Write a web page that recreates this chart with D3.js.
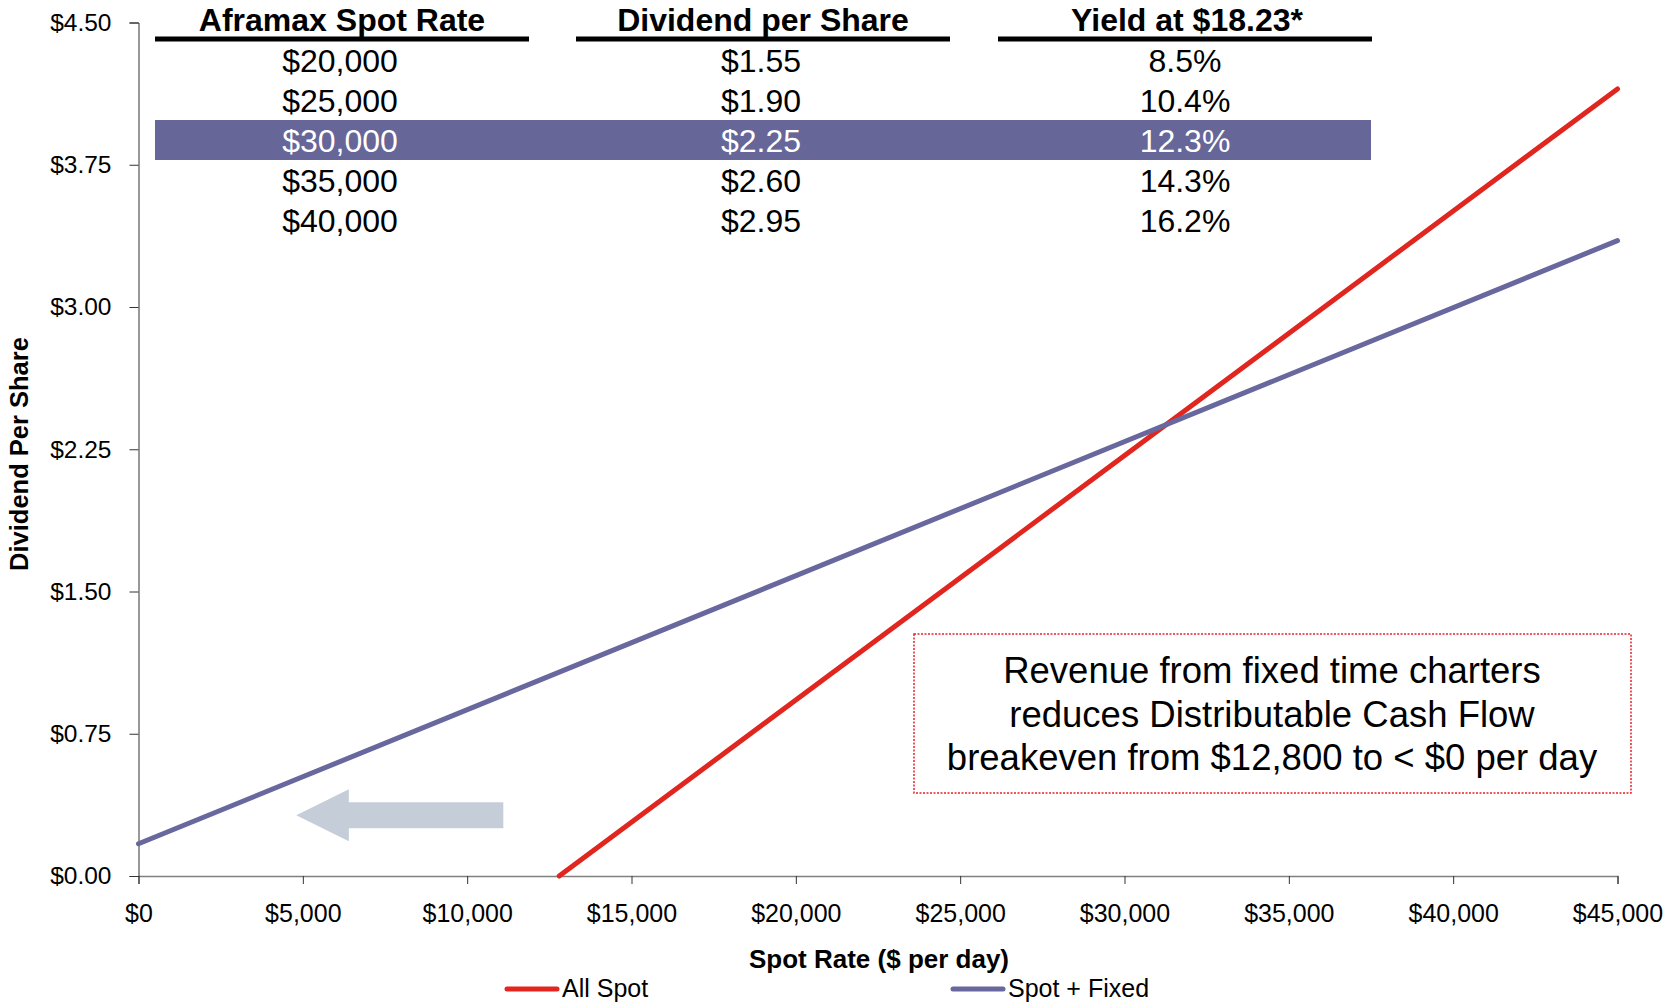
<!DOCTYPE html>
<html lang="en">
<head>
  <meta charset="UTF-8">
  <title>Dividend per Share vs Spot Rate</title>
  <script src="https://d3js.org/d3.v7.min.js"></script>
  <style>
    body { margin: 0; background: #fff; }
    text { font-family: "Liberation Sans", Arial, sans-serif; }
  </style>
</head>
<body>
<script>
  // Series (spot rate $/day -> dividend per share)
  const allSpotX = [12800, 45000];
  const allSpotY = [0, 4.15];
  const spotFixedX = [0, 45000];
  const spotFixedY = [0.17, 3.35];

  // Axis ticks
  const xTicks = [0, 5000, 10000, 15000, 20000, 25000, 30000, 35000, 40000, 45000];
  const yTicks = [0, 0.75, 1.5, 2.25, 3.0, 3.75, 4.5];

  // Table
  const tableHeaders = ["Aframax Spot Rate", "Dividend per Share", "Yield at $18.23*"];
  const spotRates = ["$20,000", "$25,000", "$30,000", "$35,000", "$40,000"];
  const dividends = ["$1.55", "$1.90", "$2.25", "$2.60", "$2.95"];
  const yields = ["8.5%", "10.4%", "12.3%", "14.3%", "16.2%"];
  const highlightRow = 2;

  const noteLines = [
    "Revenue from fixed time charters",
    "reduces Distributable Cash Flow",
    "breakeven from $12,800 to < $0 per day"
  ];

  const legendNames = ["All Spot", "Spot + Fixed"];

  const W = 1668, H = 1004;
  const red = "#e0261f", purple = "#68689e";

  const svg = d3.select("body").append("svg")
    .attr("width", W).attr("height", H);

  const x = d3.scaleLinear().domain([0, 45000]).range([138.5, 1617.5]);
  const y = d3.scaleLinear().domain([0, 4.5]).range([876, 22.5]);

  // x axis
  const xAxis = svg.append("g")
    .attr("transform", `translate(0,${y(0)})`)
    .call(d3.axisBottom(x).tickValues(xTicks).tickSize(8).tickPadding(20)
      .tickFormat(d => "$" + d3.format(",")(d)));
  xAxis.select(".domain").attr("stroke", "#808080").attr("stroke-width", 1.5);
  xAxis.selectAll(".tick line").attr("stroke", "#333");
  xAxis.selectAll("text").attr("font-size", 25).attr("fill", "#000");

  // y axis
  const yAxis = svg.append("g")
    .attr("transform", `translate(${x(0)},0)`)
    .call(d3.axisLeft(y).tickValues(yTicks).tickSize(9).tickPadding(18)
      .tickFormat(d => "$" + d3.format(".2f")(d)));
  yAxis.select(".domain").attr("stroke", "#333").attr("stroke-width", 1);
  yAxis.selectAll(".tick line").attr("stroke", "#333");
  yAxis.selectAll("text").attr("font-size", 24.5).attr("fill", "#000");

  // axis titles
  svg.append("text")
    .attr("x", 879).attr("y", 968)
    .attr("text-anchor", "middle")
    .attr("font-size", 26).attr("font-weight", "bold")
    .text("Spot Rate ($ per day)");

  svg.append("text")
    .attr("transform", "translate(28,454) rotate(-90)")
    .attr("text-anchor", "middle")
    .attr("font-size", 25.5).attr("font-weight", "bold")
    .text("Dividend Per Share");

  // arrow annotation (data units)
  const arrowTail = 11100, arrowTip = 4800, arrowHeadBase = 6400, arrowY = 0.32;
  const ay = y(arrowY);
  const arrowPts = [
    [x(arrowTip), ay],
    [x(arrowHeadBase), ay - 26],
    [x(arrowHeadBase), ay - 13],
    [x(arrowTail), ay - 13],
    [x(arrowTail), ay + 13],
    [x(arrowHeadBase), ay + 13],
    [x(arrowHeadBase), ay + 26]
  ];
  svg.append("polygon")
    .attr("points", arrowPts.map(p => p.join(",")).join(" "))
    .attr("fill", "#c5ced8");

  // lines
  const line = d3.line().x(d => x(d[0])).y(d => y(d[1]));
  const series = [
    { name: legendNames[0], color: red, pts: d3.zip(allSpotX, allSpotY) },
    { name: legendNames[1], color: purple, pts: d3.zip(spotFixedX, spotFixedY) }
  ];
  svg.selectAll("path.series")
    .data(series)
    .enter().append("path")
    .attr("class", "series")
    .attr("d", d => line(d.pts))
    .attr("fill", "none")
    .attr("stroke", d => d.color)
    .attr("stroke-width", 5)
    .attr("stroke-linecap", "round");

  // table
  const colCenters = [340, 761, 1185];
  const colLeft = [155, 576, 998];
  const colWidth = 374;
  const rowBase = [72, 112, 151.5, 191.5, 231.5];

  svg.append("rect")
    .attr("x", 155).attr("y", 120)
    .attr("width", 1371 - 155).attr("height", 40)
    .attr("fill", "#666699");

  tableHeaders.forEach((h, i) => {
    svg.append("text")
      .attr("x", colCenters[i] + 2).attr("y", 31)
      .attr("text-anchor", "middle")
      .attr("font-size", 32).attr("font-weight", "bold")
      .text(h);
    svg.append("rect")
      .attr("x", colLeft[i]).attr("y", 36.5)
      .attr("width", colWidth).attr("height", 5)
      .attr("fill", "#000");
  });

  [spotRates, dividends, yields].forEach((col, ci) => {
    svg.selectAll(null)
      .data(col)
      .enter().append("text")
      .attr("x", colCenters[ci])
      .attr("y", (d, i) => rowBase[i])
      .attr("text-anchor", "middle")
      .attr("font-size", 32)
      .attr("fill", (d, i) => i === highlightRow ? "#fff" : "#000")
      .text(d => d);
  });

  // note box
  svg.append("rect")
    .attr("x", 914).attr("y", 634)
    .attr("width", 717).attr("height", 159)
    .attr("fill", "#fff")
    .attr("stroke", "#e8202a")
    .attr("stroke-width", 1.5)
    .attr("stroke-dasharray", "2,1.5");

  svg.selectAll("text.note")
    .data(noteLines)
    .enter().append("text")
    .attr("class", "note")
    .attr("x", 1272)
    .attr("y", (d, i) => 683 + i * 43.5)
    .attr("text-anchor", "middle")
    .attr("font-size", 36.5)
    .text(d => d);

  // legend
  const legendX = [507, 953];
  const lg = svg.selectAll("g.legend")
    .data(series)
    .enter().append("g")
    .attr("class", "legend")
    .attr("transform", (d, i) => `translate(${legendX[i]},989)`);
  lg.append("line")
    .attr("x1", 0).attr("x2", 50)
    .attr("stroke", d => d.color)
    .attr("stroke-width", 5)
    .attr("stroke-linecap", "round");
  lg.append("text")
    .attr("x", 55).attr("y", 8)
    .attr("font-size", 25)
    .text(d => d.name);
</script>
</body>
</html>
